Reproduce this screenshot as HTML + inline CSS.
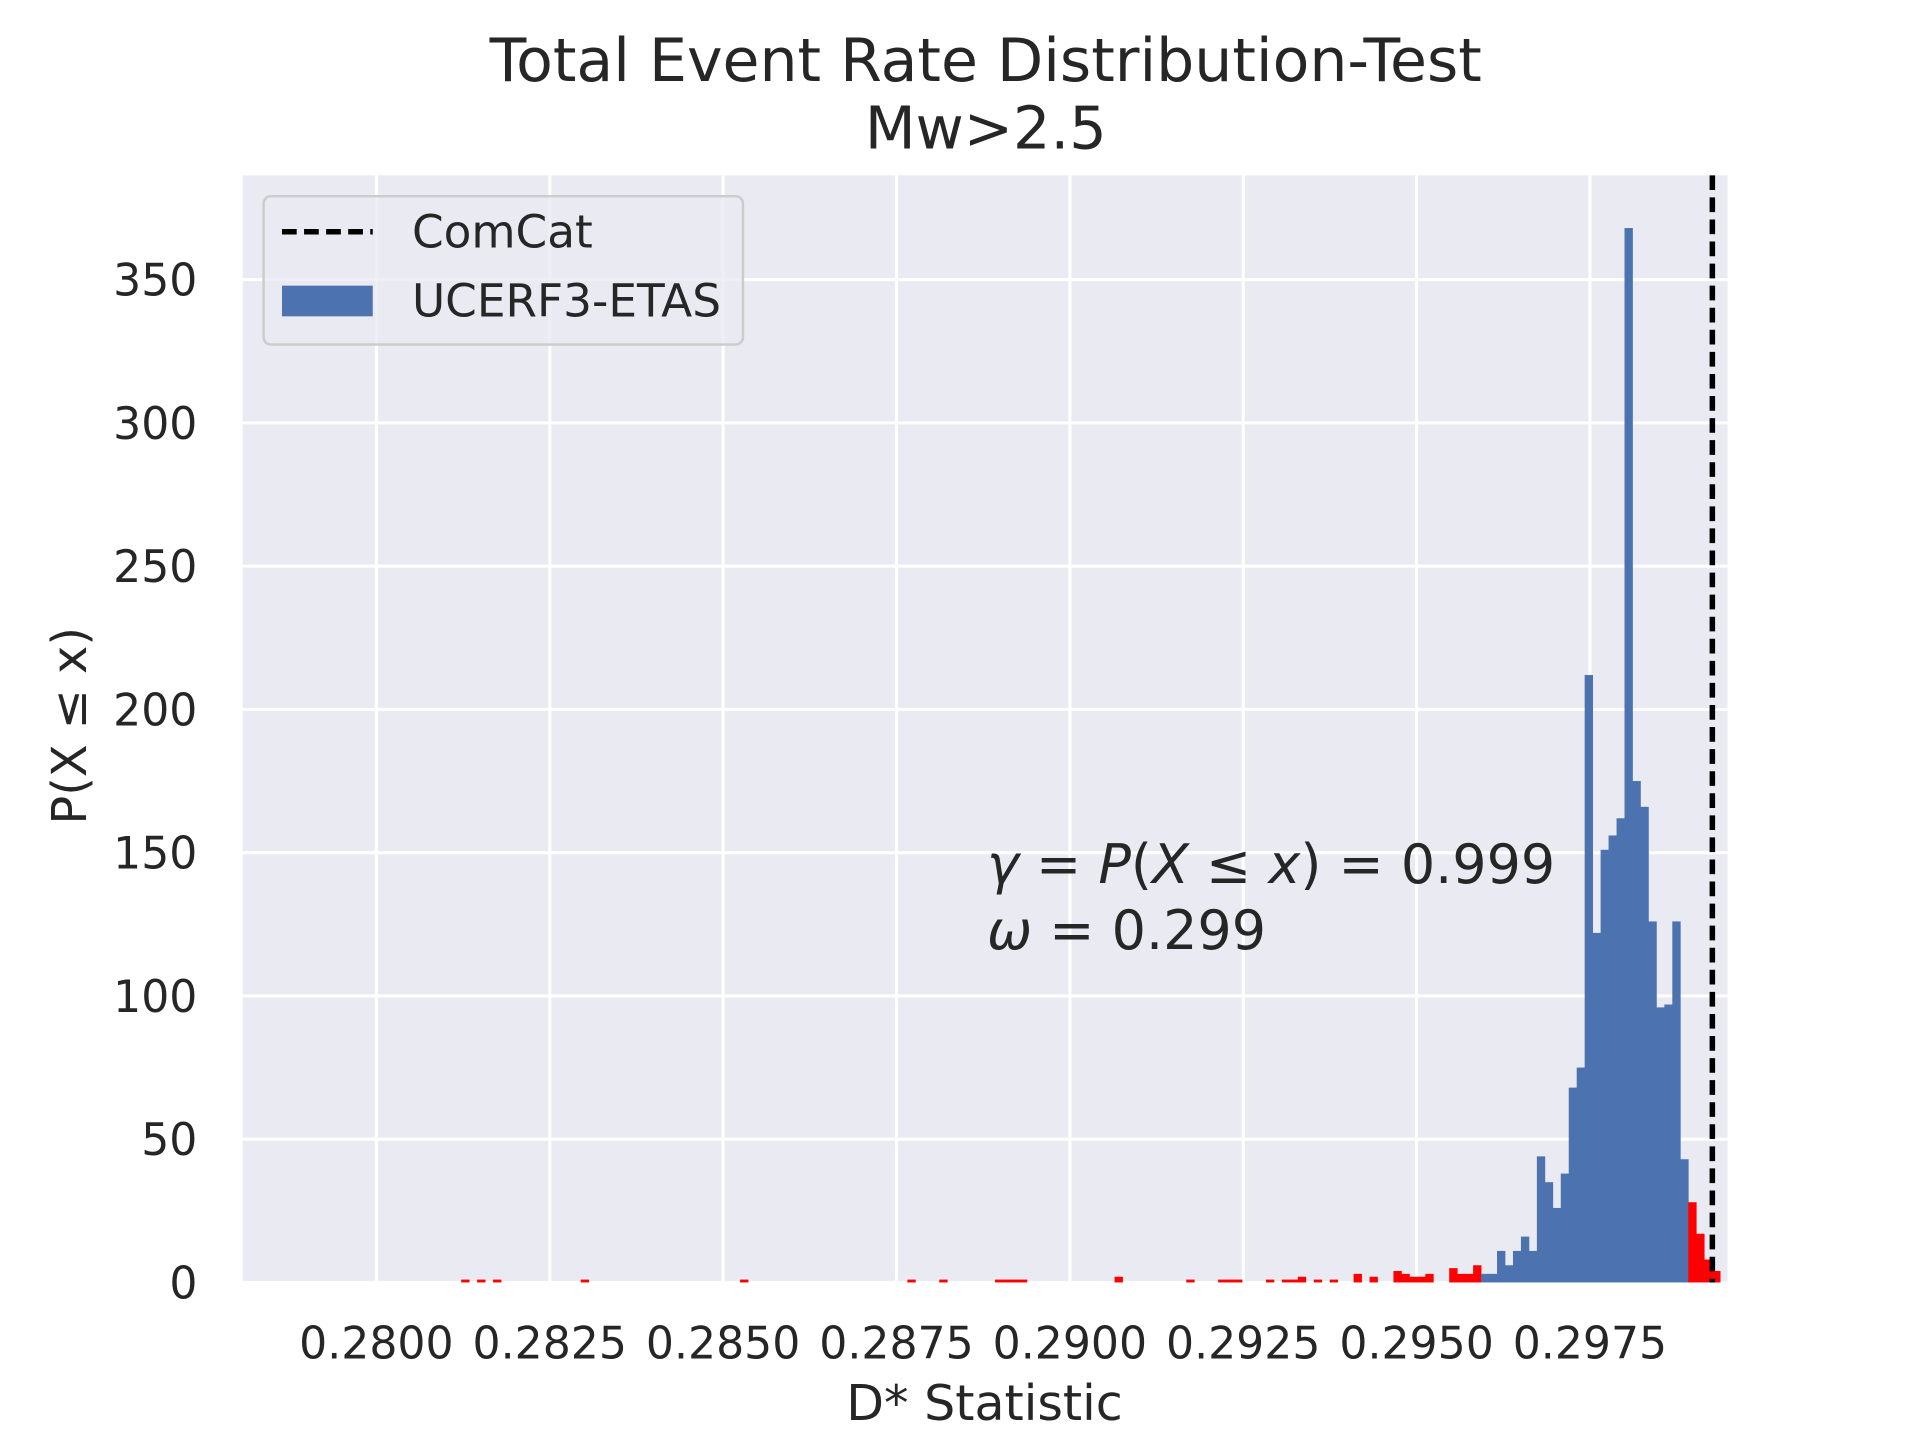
<!DOCTYPE html>
<html><head><meta charset="utf-8"><style>
html,body{margin:0;padding:0;background:#fff;}
svg{display:block;font-family:"DejaVu Sans","Liberation Sans",sans-serif;}
</style></head><body>
<svg id="chart" width="1920" height="1440" viewBox="0 0 1566 1174.5" xmlns="http://www.w3.org/2000/svg">
<rect x="0" y="0" width="1566" height="1175" fill="#ffffff"/>
<rect x="198" y="143" width="1211" height="903" fill="#eaeaf2"/>
<g id="grid"></g>
<g id="bars"></g>
<g id="ticks"></g>
<line id="comcat" stroke="#000" stroke-width="4.5" stroke-dasharray="12,6"/>
<text x="804" y="66" text-anchor="middle" font-size="49" fill="#262626">Total Event Rate Distribution-Test</text>
<text x="804" y="121" text-anchor="middle" font-size="48" fill="#262626">Mw&gt;2.5</text>
<text x="803" y="1158" text-anchor="middle" font-size="40" fill="#262626">D* Statistic</text>
<text transform="translate(70,592) rotate(-90)" text-anchor="middle" font-size="39" fill="#262626">P(X  ≤  x)</text>
<text x="805" y="720" font-size="44" fill="#262626"><tspan font-style="italic">γ</tspan> = <tspan font-style="italic">P</tspan>(<tspan font-style="italic">X</tspan> ≤ <tspan font-style="italic">x</tspan>) = 0.999</text>
<text x="805" y="774" font-size="44" fill="#262626"><tspan font-style="italic">ω</tspan> = 0.299</text>
<g>
<rect x="215" y="160" width="391" height="121" rx="6" fill="#eaeaf2" fill-opacity="0.8" stroke="#cccccc" stroke-width="2"/>
<line x1="230" y1="189" x2="304" y2="189" stroke="#000" stroke-width="4.5" stroke-dasharray="12,6"/>
<text x="336" y="202" font-size="37" fill="#262626">ComCat</text>
<rect x="230" y="233" width="74" height="25" fill="#4c72b0"/>
<text x="336" y="258" font-size="37" fill="#262626">UCERF3-ETAS</text>
</g>
</svg>
<script>
const xTicks = [0.2800, 0.2825, 0.2850, 0.2875, 0.2900, 0.2925, 0.2950, 0.2975];
const xTickLabels = ["0.2800","0.2825","0.2850","0.2875","0.2900","0.2925","0.2950","0.2975"];
const yTicks = [0, 50, 100, 150, 200, 250, 300, 350];
const binStart = 0.281223;
const binWidth = 0.0001149;
const sparseBinIdx = [0,2,4,15,35,56,60,67,68,69,70,82,91,95,96,97,101,103,104,105,107,109,112,114,117,118,119,120,121,124,125,126,127];
const sparseCounts = [1,1,1,1,1,1,1,1,1,1,1,2,1,1,1,1,1,1,1,2,1,1,3,2,4,3,2,2,3,5,3,3,6];
const tailStartIdx = 128;
const tailCounts = [3,3,11,6,11,16,11,44,35,26,38,68,75,212,122,151,156,162,368,175,166,126,96,97,126,43,28,17,8,4];
const blueFirstIdx = 128;
const blueLastIdx = 153;
const comcatValue = 0.299265;

const X0=198,X1=1408,Y0=1046,Y1=143;
const xMin=0.278073,xMax=0.299466,yMin=0,yMax=386.4;
function sx(v){return X0+(v-xMin)/(xMax-xMin)*(X1-X0);}
function sy(v){return Y0-(v-yMin)/(yMax-yMin)*(Y0-Y1);}
const NS="http://www.w3.org/2000/svg";
const grid=document.getElementById('grid'),bars=document.getElementById('bars'),ticks=document.getElementById('ticks');
xTicks.forEach((t,i)=>{
  const l=document.createElementNS(NS,'line');
  l.setAttribute('x1',sx(t));l.setAttribute('x2',sx(t));l.setAttribute('y1',Y1);l.setAttribute('y2',Y0);
  l.setAttribute('stroke','#fff');l.setAttribute('stroke-width','2.5');
  
  
  grid.appendChild(l);
  const tx=document.createElementNS(NS,'text');
  tx.setAttribute('x',sx(t));tx.setAttribute('y',1108);tx.setAttribute('text-anchor','middle');
  tx.setAttribute('font-size','36');tx.setAttribute('fill','#262626');
  tx.textContent=xTickLabels[i];
  
  
  ticks.appendChild(tx);
});
yTicks.forEach(t=>{
  const l=document.createElementNS(NS,'line');
  l.setAttribute('x1',X0);l.setAttribute('x2',X1+1);l.setAttribute('y1',sy(t));l.setAttribute('y2',sy(t));
  l.setAttribute('stroke','#fff');l.setAttribute('stroke-width','2.5');
  
  
  grid.appendChild(l);
  const tx=document.createElementNS(NS,'text');
  tx.setAttribute('x',161);tx.setAttribute('y',sy(t)+13);tx.setAttribute('text-anchor','end');
  tx.setAttribute('font-size','36');tx.setAttribute('fill','#262626');
  tx.textContent=String(t);
  
  
  ticks.appendChild(tx);
});
function bar(idx,c){
  const x0=sx(binStart+idx*binWidth),x1=sx(binStart+(idx+1)*binWidth);
  const r=document.createElementNS(NS,'rect');
  r.setAttribute('x',x0);r.setAttribute('width',x1-x0+0.3);
  r.setAttribute('y',sy(c));r.setAttribute('height',sy(0)-sy(c));
  const blue=idx>=blueFirstIdx&&idx<=blueLastIdx;
  r.setAttribute('fill',blue?'#4c72b0':'#ff0000');
  
  
  bars.appendChild(r);
}
sparseBinIdx.forEach((k,i)=>bar(k,sparseCounts[i]));
tailCounts.forEach((c,i)=>bar(tailStartIdx+i,c));
const cl=document.getElementById('comcat');
cl.setAttribute('x1',sx(comcatValue));cl.setAttribute('x2',sx(comcatValue));
cl.setAttribute('y1',Y1);cl.setAttribute('y2',Y0);
</script>
</body></html>
